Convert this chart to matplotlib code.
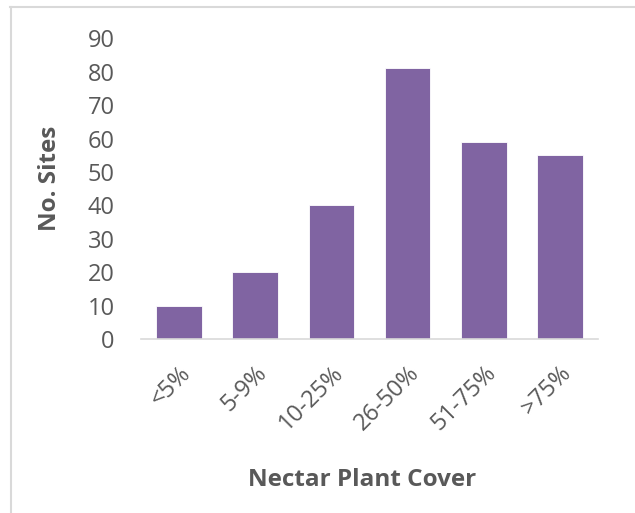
import matplotlib
matplotlib.use("Agg")
import matplotlib.pyplot as plt
from matplotlib.lines import Line2D

categories = ["<5%", "5-9%", "10-25%", "26-50%", "51-75%", ">75%"]
sites = [10, 20, 40, 81, 59, 55]
yticks = [0, 10, 20, 30, 40, 50, 60, 70, 80, 90]

plt.rcParams['font.family'] = ['Open Sans', 'DejaVu Sans']
gray = '#595959'

fig = plt.figure(figsize=(6.35, 5.13), dpi=100)
ax = fig.add_axes([141/635, 1-339/513, (598-141)/635, (339-38.3)/513])

x = range(len(categories))
ax.bar(x, sites, width=0.6, color='#8064a2', edgecolor='white', linewidth=0.6)
ax.set_xlim(-0.5, len(categories)-0.5)
ax.set_ylim(0, 90)
ax.set_yticks(yticks)
ax.set_yticklabels([str(v) for v in yticks], fontsize=17, color=gray)
ax.set_xticks(list(x))
ax.set_xticklabels(categories, fontsize=17, color=gray, rotation=45,
                   ha='right', va='top', rotation_mode='anchor')
ax.tick_params(axis='y', length=0, pad=19)
ax.tick_params(axis='x', length=0, pad=16)
for s in ['top', 'right', 'left']:
    ax.spines[s].set_visible(False)
ax.spines['bottom'].set_color('#d9d9d9')
ax.spines['bottom'].set_linewidth(1.2)

fig.text(50/635, 1-178/513, 'No. Sites', rotation=90, fontsize=17.5, fontweight='bold',
         color=gray, ha='center', va='center')
fig.text(362/635, 1-480/513, 'Nectar Plant Cover', fontsize=17.5, fontweight='bold',
         color=gray, ha='center', va='center')

# outer chart border (partially visible)
fig.add_artist(Line2D([10/635, 1.0], [1-6.5/513, 1-6.5/513], transform=fig.transFigure,
                      color='#d9d9d9', linewidth=1.5))
fig.add_artist(Line2D([10.5/635, 10.5/635], [0, 1-6.5/513], transform=fig.transFigure,
                      color='#d9d9d9', linewidth=1.5))

fig.savefig('out.png', dpi=100, facecolor='white')
